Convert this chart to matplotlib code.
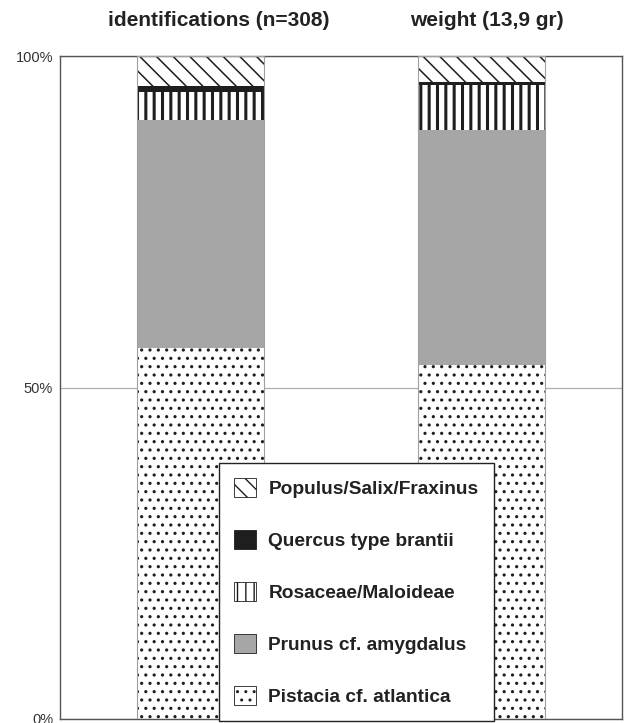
import matplotlib
matplotlib.use("Agg")
import matplotlib.pyplot as plt
import numpy as np

plt.rcParams['font.family'] = ['Liberation Sans', 'DejaVu Sans']

columns = ["identifications (n=308)", "weight (13,9 gr)"]
taxa = ["Pistacia cf. atlantica", "Prunus cf. amygdalus", "Rosaceae/Maloideae",
        "Quercus type brantii", "Populus/Salix/Fraxinus"]
# percentages per column, bottom to top
pistacia = [56.0, 53.4]
prunus = [34.3, 35.4]
rosaceae = [4.2, 6.9]
quercus = [0.9, 0.4]
populus = [4.6, 3.9]

styles = [
    dict(facecolor="white", hatch="..", hlw=1.1),
    dict(facecolor="#a6a6a6", hatch=None, hlw=1.0),
    dict(facecolor="white", hatch="||", hlw=2.2),
    dict(facecolor="#1e1e1e", hatch=None, hlw=1.0),
    dict(facecolor="white", hatch="\\\\", hlw=1.1),
]

fig = plt.figure(figsize=(6.26, 7.23), dpi=100)
ax = fig.add_axes([60 / 626, 1 - 719 / 723, 562 / 626, 663 / 723])

x = np.arange(len(columns))
width = 0.45
bottom = np.zeros(len(columns))
handles = []
for name, vals, st in zip(taxa, [pistacia, prunus, rosaceae, quercus, populus], styles):
    with plt.rc_context({'hatch.linewidth': st['hlw']}):
        b = ax.bar(x, vals, width, bottom=bottom, color=st['facecolor'],
                   edgecolor="#1e1e1e", linewidth=0, hatch=st['hatch'], label=name, zorder=2)
    handles.append(b)
    bottom = bottom + np.array(vals)

# thin outline around each column
ax.bar(x, bottom, width, fill=False, edgecolor="#a0a0a0", linewidth=0.8, zorder=3)

ax.set_xlim(-0.5, 1.5)
ax.set_ylim(0, 100)
ax.set_yticks([0, 50, 100])
ax.set_yticklabels(["0%", "50%", "100%"])
ax.set_xticks([])
ax.tick_params(axis='y', length=0, pad=5, labelsize=10.5, labelcolor="#333333")
ax.yaxis.grid(True, color="#b0b0b0", linewidth=0.9, zorder=0)
ax.set_axisbelow(True)
for s in ax.spines.values():
    s.set_color("#555555")
    s.set_linewidth(1.0)

title_pos = [219 / 626, 487 / 626]
for label, xp in zip(columns, title_pos):
    fig.text(xp, 1 - 21 / 723, label, ha='center', va='center',
             fontsize=15, fontweight='bold', color="#222222")

leg = ax.legend(handles[::-1], taxa[::-1], loc='upper left',
                bbox_to_anchor=(219 / 626, 1 - 463 / 723), bbox_transform=fig.transFigure,
                prop={'weight': 'bold', 'size': 13.8},
                handlelength=1.15, handleheight=1.15, labelspacing=1.66,
                handletextpad=0.63, borderpad=0.8, borderaxespad=0,
                fancybox=False, framealpha=1, edgecolor="#222222")
leg.get_frame().set_linewidth(1.0)
for t in leg.get_texts():
    t.set_color("#222222")
for h in leg.legend_handles:
    h.set_edgecolor("#1e1e1e")
    h.set_linewidth(0.6)

fig.savefig("out.png", dpi=100)
